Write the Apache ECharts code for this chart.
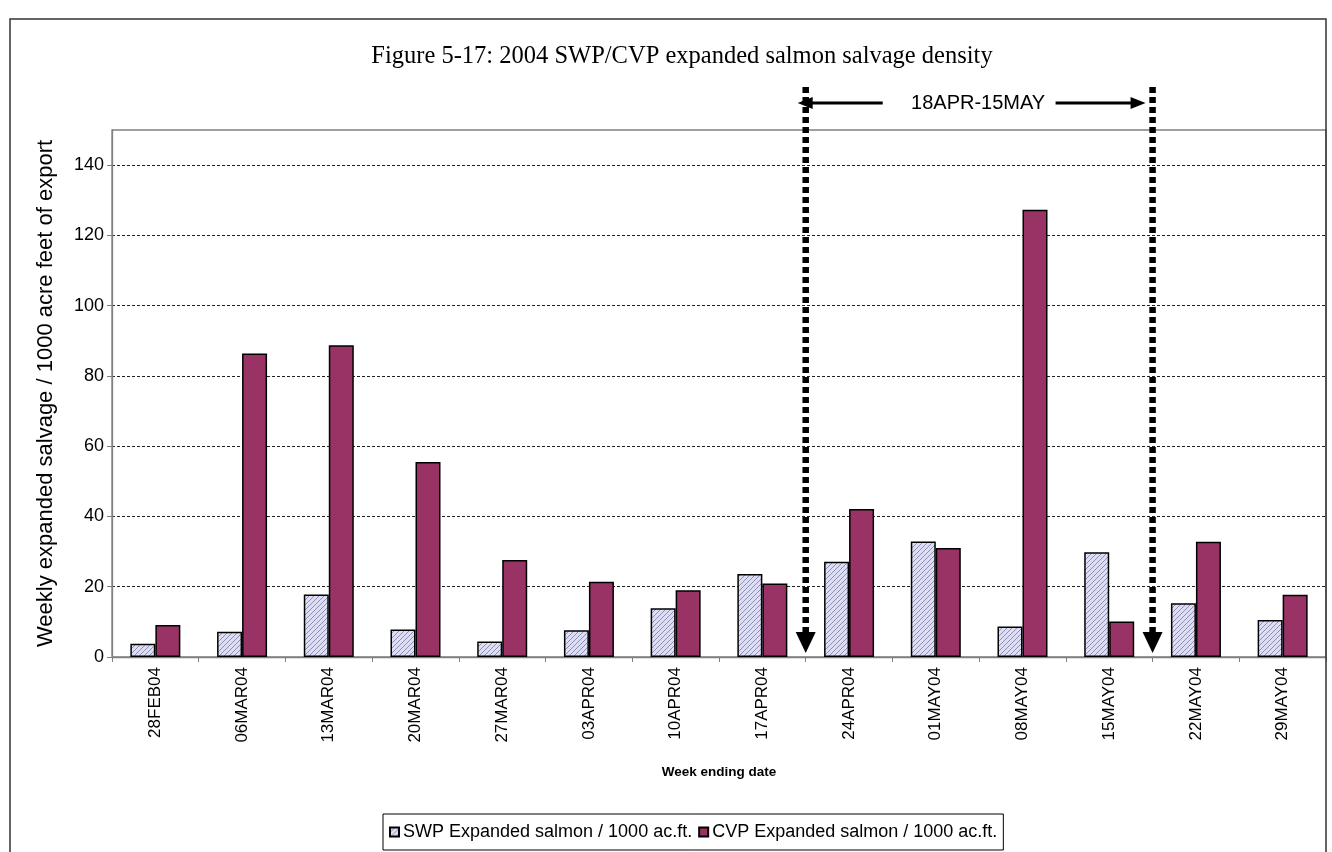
<!DOCTYPE html>
<html><head><meta charset="utf-8">
<script src="https://cdn.jsdelivr.net/npm/echarts@6/dist/echarts.min.js"></script>
<style>html,body{margin:0;padding:0;background:#fff}#c{width:1332px;height:852px}</style>
</head><body><div id="c"></div>
<script>
const titleText = 'Figure 5-17: 2004 SWP/CVP expanded salmon salvage density';
const categories = ['28FEB04','06MAR04','13MAR04','20MAR04','27MAR04','03APR04','10APR04','17APR04','24APR04','01MAY04','08MAY04','15MAY04','22MAY04','29MAY04'];
const swpName = 'SWP Expanded salmon / 1000 ac.ft.';
const cvpName = 'CVP Expanded salmon / 1000 ac.ft.';
const swpValues = [3.8, 7.2, 17.8, 7.8, 4.4, 7.6, 13.9, 23.6, 27.1, 32.9, 8.7, 29.8, 15.3, 10.5];
const cvpValues = [9.1, 86.4, 88.7, 55.5, 27.6, 21.4, 19.0, 20.9, 42.1, 31.0, 127.3, 10.1, 32.8, 17.7];
const yMin = 0, yMax = 150, yInterval = 20;
const yAxisTitle = 'Weekly expanded salvage / 1000 acre feet of export';
const xAxisTitle = 'Week ending date';
const rangeLabel = '18APR-15MAY';
// range starts before the first listed week and ends before the second
const rangeBoundaryCats = ['24APR04', '22MAY04'];

// hatched fill for SWP bars
const pc = document.createElement('canvas');
pc.width = 5; pc.height = 5;
const pctx = pc.getContext('2d');
pctx.fillStyle = '#dedef3'; pctx.fillRect(0, 0, 5, 5);
pctx.strokeStyle = '#8e8ebd'; pctx.lineWidth = 1;
pctx.beginPath();
pctx.moveTo(-1, 6); pctx.lineTo(6, -1);
pctx.moveTo(-3.5, 3.5); pctx.lineTo(3.5, -3.5);
pctx.moveTo(1.5, 8.5); pctx.lineTo(8.5, 1.5);
pctx.stroke();

const chart = echarts.init(document.getElementById('c'), null, {renderer: 'canvas'});
const option = {
  animation: false,
  backgroundColor: '#fff',
  title: {
    text: titleText, left: 677, top: 39, textAlign: 'center',
    textStyle: {fontFamily: 'Liberation Serif', fontWeight: 'normal', fontSize: 24.5, color: '#000'}
  },
  grid: {left: 112, right: 6, top: 130, bottom: 195, show: true, borderColor: '#808080', borderWidth: 1.3, backgroundColor: 'transparent'},
  legend: {
    bottom: 2, left: 383, itemWidth: 9, itemHeight: 9, itemGap: 6, icon: 'rect',
    padding: [9, 6, 9, 6], borderColor: '#000', borderWidth: 1, borderRadius: 0,
    textStyle: {fontFamily: 'Liberation Sans', fontSize: 18, color: '#000', padding: [0, 0, 0, -1]},
    data: [swpName, cvpName]
  },
  xAxis: {
    type: 'category', data: categories,
    name: xAxisTitle, nameLocation: 'middle', nameGap: 108,
    nameTextStyle: {fontFamily: 'Liberation Sans', fontWeight: 'bold', fontSize: 13.5, color: '#000'},
    axisLine: {lineStyle: {color: '#808080', width: 1.3}},
    axisTick: {show: true, length: 5, lineStyle: {color: '#808080'}},
    axisLabel: {rotate: 90, margin: 10, fontFamily: 'Liberation Sans', fontSize: 17, color: '#000', interval: 0},
    splitLine: {show: false}
  },
  yAxis: {
    type: 'value', min: yMin, max: yMax, interval: yInterval,
    name: yAxisTitle, nameLocation: 'middle', nameGap: 55, nameRotate: 90,
    nameTextStyle: {fontFamily: 'Liberation Sans', fontSize: 22, color: '#000'},
    axisLine: {show: true, lineStyle: {color: '#808080', width: 1.3}},
    axisTick: {show: true, length: 5, lineStyle: {color: '#808080'}},
    axisLabel: {margin: 8, fontFamily: 'Liberation Sans', fontSize: 18, color: '#000', showMaxLabel: false},
    splitLine: {show: true, showMinLine: false, showMaxLine: false, lineStyle: {color: '#222', width: 1, type: [3, 2]}}
  },
  series: [
    {
      name: swpName, type: 'bar', data: swpValues, barWidth: 25, barGap: '0%',
      itemStyle: {color: {image: pc, repeat: 'repeat'}, borderColor: '#000', borderWidth: 1.5}
    },
    {
      name: cvpName, type: 'bar', data: cvpValues, barWidth: 25, barGap: '0%',
      itemStyle: {color: '#993366', borderColor: '#000', borderWidth: 1.5}
    }
  ]
};
chart.setOption(option);

// annotation positioned through the axes
const cx = name => chart.convertToPixel({xAxisIndex: 0}, name);
const boundaryBefore = name => {
  const i = categories.indexOf(name);
  return (cx(categories[i - 1]) + cx(categories[i])) / 2;
};
const xa = boundaryBefore(rangeBoundaryCats[0]);
const xb = boundaryBefore(rangeBoundaryCats[1]);
const y0 = chart.convertToPixel({yAxisIndex: 0}, 0);
const topY = 87, arrowY = 103;
const elems = [
  {type: 'rect', shape: {x: 10, y: 19, width: 1316, height: 900}, style: {fill: null, stroke: '#333', lineWidth: 1.5}, z: 100}
];
[xa, xb].forEach(x => {
  elems.push({type: 'line', shape: {x1: x, y1: topY, x2: x, y2: y0 - 24}, style: {stroke: '#000', lineWidth: 6.5, lineDash: [6, 4]}, z: 100});
  elems.push({type: 'polygon', shape: {points: [[x - 10, y0 - 25], [x + 10, y0 - 25], [x, y0 - 4]]}, style: {fill: '#000'}, z: 100});
});
elems.push({type: 'line', shape: {x1: xa + 77, y1: arrowY, x2: xa + 4, y2: arrowY}, style: {stroke: '#000', lineWidth: 3}, z: 100});
elems.push({type: 'polygon', shape: {points: [[xa - 8, arrowY], [xa + 7, arrowY - 6], [xa + 7, arrowY + 6]]}, style: {fill: '#000'}, z: 100});
elems.push({type: 'line', shape: {x1: xb - 97, y1: arrowY, x2: xb - 20, y2: arrowY}, style: {stroke: '#000', lineWidth: 3}, z: 100});
elems.push({type: 'polygon', shape: {points: [[xb - 7, arrowY], [xb - 22, arrowY - 6], [xb - 22, arrowY + 6]]}, style: {fill: '#000'}, z: 100});
elems.push({type: 'text', x: (xa + xb) / 2 - 1, y: arrowY, style: {text: rangeLabel, fontFamily: 'Liberation Sans', fontSize: 20, fill: '#000', align: 'center', verticalAlign: 'middle'}, z: 100});
chart.setOption({graphic: {elements: elems}});
</script>
</body></html>
